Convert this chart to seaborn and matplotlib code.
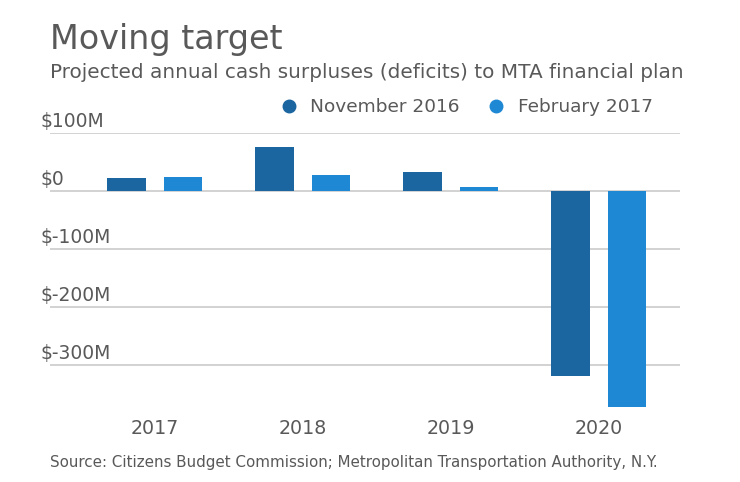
import matplotlib
matplotlib.use("Agg")
import matplotlib.pyplot as plt
import seaborn as sns
import pandas as pd
from matplotlib.lines import Line2D

years = ["2017", "2018", "2019", "2020"]
nov_2016 = [22, 76, 32, -320]
feb_2017 = [23, 27, 6, -373]
series_names = ["November 2016", "February 2017"]
y_ticks = [100, 0, -100, -200, -300]
y_tick_labels = ["$100M", "$0", "$-100M", "$-200M", "$-300M"]
colors = ["#1b65a0", "#1f88d4"]

df = pd.DataFrame({
    "year": years * 2,
    "value": nov_2016 + feb_2017,
    "series": [series_names[0]] * len(years) + [series_names[1]] * len(years),
})

sns.set_style("white")
plt.rcParams["font.family"] = ["DejaVu Sans"]
text_gray = "#595959"

fig = plt.figure(figsize=(7.4, 4.82), dpi=100)
ax = fig.add_axes([50 / 740, 1 - 410 / 482, 630 / 740, (410 - 132.7) / 482])

sns.barplot(data=df, x="year", y="value", hue="series", palette=colors,
            width=0.76, gap=0.32, ax=ax, legend=False, saturation=1,
            linewidth=0, edgecolor="none")

ax.set_xlim(-0.707, 3.55)
ax.set_ylim(-378, 100)
for s in ax.spines.values():
    s.set_visible(False)
ax.set_yticks(y_ticks)
ax.set_yticklabels([])
ax.tick_params(axis="y", length=0)
for t in y_ticks:
    ax.axhline(t, color="#d2d2d2", lw=1.4, zorder=0)
for t, lab in zip(y_ticks, y_tick_labels):
    ax.text(-10 / 630, t + 3, lab, transform=ax.get_yaxis_transform(),
            ha="left", va="bottom", fontsize=13.5, color=text_gray)
ax.set_xlabel("")
ax.set_ylabel("")
ax.tick_params(axis="x", length=0, pad=6.5, labelsize=13.7, labelcolor=text_gray)

fig.text(50 / 740, 1 - 40 / 482, "Moving target", fontsize=24, color=text_gray,
         ha="left", va="center")
fig.text(50 / 740, 1 - 72 / 482,
         "Projected annual cash surpluses (deficits) to MTA financial plan",
         fontsize=14.4, color=text_gray, ha="left", va="center")
fig.text(50 / 740, 1 - 462 / 482,
         "Source: Citizens Budget Commission; Metropolitan Transportation Authority, N.Y.",
         fontsize=10.9, color=text_gray, ha="left", va="center")

handles = [Line2D([0], [0], marker="o", color="none", markerfacecolor=c,
                  markeredgecolor=c, markersize=9) for c in colors]
fig.legend(handles, series_names, loc="center", bbox_to_anchor=(466 / 740, 1 - 107 / 482),
           ncol=2, frameon=False, fontsize=13.3, labelcolor=text_gray,
           handletextpad=0.68, columnspacing=1.45, handlelength=1.0)

fig.savefig("out.png", dpi=100)
